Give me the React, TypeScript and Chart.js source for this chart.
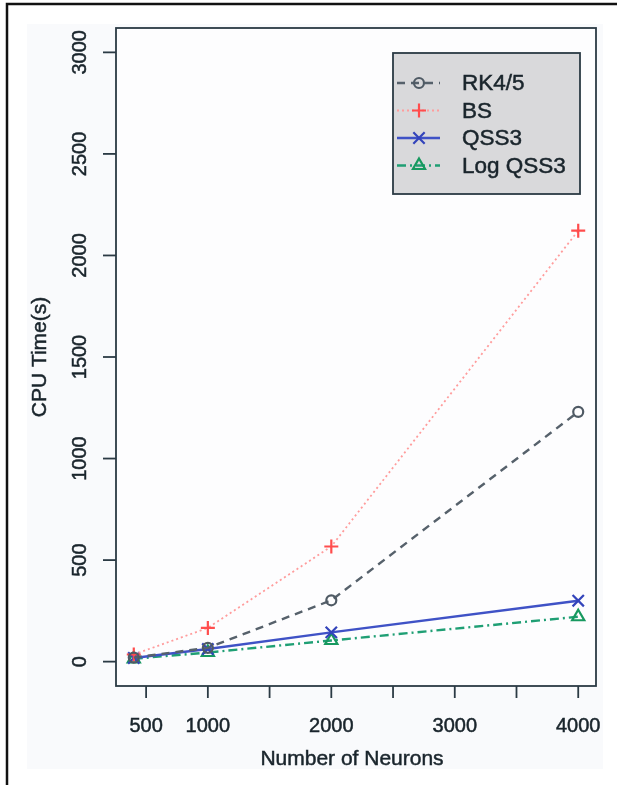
import React, { useEffect, useRef } from 'react';
import { Chart, registerables } from 'chart.js';

Chart.register(...registerables);

// ---- data ----
const neurons = [400, 1000, 2000, 4000];
const rk45 = [20, 68, 302, 1230];
const bs = [35, 166, 567, 2122];
const qss3 = [18, 62, 144, 300];
const logQss3 = [14, 45, 104, 221];

const seriesNames = ['RK4/5', 'BS', 'QSS3', 'Log QSS3'];
const xTicks = [500, 1000, 1500, 2000, 2500, 3000, 3500, 4000];
const xTickLabels = ['500', '1000', '', '2000', '', '3000', '', '4000'];
const yTicks = [0, 500, 1000, 1500, 2000, 2500, 3000];
const yTickLabels = ['0', '500', '1000', '1500', '2000', '2500', '3000'];
const xTitle = 'Number of Neurons';
const yTitle = 'CPU Time(s)';

const FONT = '"Liberation Sans", Arial, Helvetica, sans-serif';
const AXIS = '#2b3a44';
const TEXT = '#1a252c';

type Style = {
  color: string;
  pointColor: string;
  dash: number[];
  width: number;
  marker: 'circle' | 'cross' | 'crossRot' | 'triangle';
  radius: number;
};

const styles: Style[] = [
  { color: '#56616b', pointColor: '#4f5a64', dash: [8, 6], width: 2.4, marker: 'circle', radius: 5 },
  { color: '#ff9c9c', pointColor: '#ff4d4d', dash: [2, 3], width: 1.8, marker: 'cross', radius: 7 },
  { color: '#3f52c6', pointColor: '#3344bb', dash: [], width: 2.4, marker: 'crossRot', radius: 8 },
  { color: '#1f9f74', pointColor: '#17995f', dash: [9, 4, 2, 4], width: 2.4, marker: 'triangle', radius: 7 },
];

const seriesData = [rk45, bs, qss3, logQss3];

function drawMarker(ctx: CanvasRenderingContext2D, m: Style['marker'], x: number, y: number, r: number) {
  ctx.beginPath();
  if (m === 'circle') {
    ctx.arc(x, y, r, 0, Math.PI * 2);
  } else if (m === 'cross') {
    ctx.moveTo(x - r, y); ctx.lineTo(x + r, y);
    ctx.moveTo(x, y - r); ctx.lineTo(x, y + r);
  } else if (m === 'crossRot') {
    const o = r * Math.SQRT1_2;
    ctx.moveTo(x - o, y - o); ctx.lineTo(x + o, y + o);
    ctx.moveTo(x - o, y + o); ctx.lineTo(x + o, y - o);
  } else {
    for (let i = 0; i < 3; i++) {
      const a = (i * 2 * Math.PI) / 3;
      const px = x + Math.sin(a) * r;
      const py = y - Math.cos(a) * r;
      if (i === 0) ctx.moveTo(px, py); else ctx.lineTo(px, py);
    }
    ctx.closePath();
  }
  ctx.stroke();
}

function boldText(ctx: CanvasRenderingContext2D, s: string, x: number, y: number) {
  ctx.fillText(s, x, y);
  ctx.strokeText(s, x, y);
}

const rStylePlugin = {
  id: 'rStyle',
  beforeDraw(chart: any) {
    const ctx: CanvasRenderingContext2D = chart.ctx;
    ctx.save();
    ctx.fillStyle = '#ffffff';
    ctx.fillRect(0, 0, chart.width, chart.height);
    ctx.fillStyle = '#f9fafc';
    ctx.fillRect(27, 24, 576, 745);
    const a = chart.chartArea;
    ctx.fillStyle = '#fdfdfe';
    ctx.fillRect(a.left, a.top, a.right - a.left, a.bottom - a.top);
    ctx.restore();
  },
  afterDraw(chart: any) {
    const ctx: CanvasRenderingContext2D = chart.ctx;
    const a = chart.chartArea;
    const xs = chart.scales.x;
    const ys = chart.scales.y;
    ctx.save();
    // plot box
    ctx.strokeStyle = AXIS;
    ctx.lineWidth = 1.8;
    ctx.setLineDash([]);
    ctx.strokeRect(a.left, a.top, a.right - a.left, a.bottom - a.top);

    // x ticks
    ctx.fillStyle = TEXT;
    ctx.font = `20px ${FONT}`;
    ctx.textAlign = 'center';
    ctx.textBaseline = 'middle';
    xTicks.forEach((v, i) => {
      const px = xs.getPixelForValue(v);
      ctx.strokeStyle = AXIS;
      ctx.lineWidth = 1.8;
      ctx.beginPath();
      ctx.moveTo(px, a.bottom);
      ctx.lineTo(px, a.bottom + 12);
      ctx.stroke();
      if (xTickLabels[i]) {
        ctx.strokeStyle = TEXT;
        ctx.lineWidth = 0.5;
        boldText(ctx, xTickLabels[i], px, a.bottom + 40);
      }
    });
    // y ticks
    yTicks.forEach((v, i) => {
      const py = ys.getPixelForValue(v);
      ctx.strokeStyle = AXIS;
      ctx.lineWidth = 1.8;
      ctx.beginPath();
      ctx.moveTo(a.left, py);
      ctx.lineTo(a.left - 13, py);
      ctx.stroke();
      ctx.save();
      ctx.translate(a.left - 36, py);
      ctx.rotate(-Math.PI / 2);
      ctx.strokeStyle = TEXT;
      ctx.lineWidth = 0.5;
      boldText(ctx, yTickLabels[i], 0, 0);
      ctx.restore();
    });
    // titles
    ctx.font = `21px ${FONT}`;
    ctx.strokeStyle = TEXT;
    ctx.lineWidth = 0.5;
    boldText(ctx, xTitle, (a.left + a.right) / 2 - 4, a.bottom + 73);
    ctx.save();
    ctx.translate(40, (a.top + a.bottom) / 2);
    ctx.rotate(-Math.PI / 2);
    boldText(ctx, yTitle, 0, 0);
    ctx.restore();

    // legend
    const lx = 393, ly = 53, lw = 187, lh = 141;
    ctx.fillStyle = '#d9d9db';
    ctx.fillRect(lx, ly, lw, lh);
    ctx.strokeStyle = AXIS;
    ctx.lineWidth = 1.8;
    ctx.strokeRect(lx, ly, lw, lh);
    ctx.font = `22.5px ${FONT}`;
    ctx.textAlign = 'left';
    seriesNames.forEach((name, i) => {
      const s = styles[i];
      const cy = ly + 30 + i * 27.5;
      ctx.strokeStyle = s.color;
      ctx.lineWidth = s.width;
      ctx.setLineDash(s.dash);
      ctx.beginPath();
      ctx.moveTo(lx + 4, cy);
      ctx.lineTo(lx + 47, cy);
      ctx.stroke();
      ctx.setLineDash([]);
      ctx.strokeStyle = s.pointColor;
      ctx.lineWidth = 2.2;
      drawMarker(ctx, s.marker, lx + 26, cy, s.radius);
      ctx.fillStyle = TEXT;
      ctx.strokeStyle = TEXT;
      ctx.lineWidth = 0.5;
      boldText(ctx, name, lx + 69, cy + 1);
    });

    // outer frame
    ctx.strokeStyle = '#111111';
    ctx.lineWidth = 2.5;
    ctx.beginPath();
    ctx.moveTo(7, chart.height);
    ctx.lineTo(7, 4);
    ctx.lineTo(chart.width, 4);
    ctx.stroke();
    ctx.restore();
  },
};

export default function App() {
  const canvasRef = useRef<HTMLCanvasElement | null>(null);

  useEffect(() => {
    const canvas = canvasRef.current;
    if (!canvas) return;
    const chart = new Chart(canvas, {
      type: 'line',
      data: {
        datasets: seriesNames.map((name, i) => ({
          label: name,
          data: neurons.map((x, j) => ({ x, y: seriesData[i][j] })),
          borderColor: styles[i].color,
          borderWidth: styles[i].width,
          borderDash: styles[i].dash,
          pointStyle: styles[i].marker,
          pointRadius: styles[i].radius,
          pointBorderColor: styles[i].pointColor,
          pointBorderWidth: 2.2,
          pointBackgroundColor: 'rgba(0,0,0,0)',
          backgroundColor: 'rgba(0,0,0,0)',
          fill: false,
          tension: 0,
        })),
      },
      options: {
        responsive: false,
        animation: false,
        events: [],
        layout: { padding: { left: 116, top: 28, right: 21, bottom: 99 } },
        plugins: { legend: { display: false }, tooltip: { enabled: false } },
        scales: {
          x: { type: 'linear', min: 256, max: 4144, display: false },
          y: { type: 'linear', min: -120, max: 3120, display: false },
        },
      },
      plugins: [rStylePlugin],
    });
    return () => chart.destroy();
  }, []);

  return (
    <div style={{ position: 'absolute', left: 0, top: 0, width: 617, height: 785 }}>
      <canvas ref={canvasRef} width={617} height={785} style={{ display: 'block', width: 617, height: 785 }} />
    </div>
  );
}
